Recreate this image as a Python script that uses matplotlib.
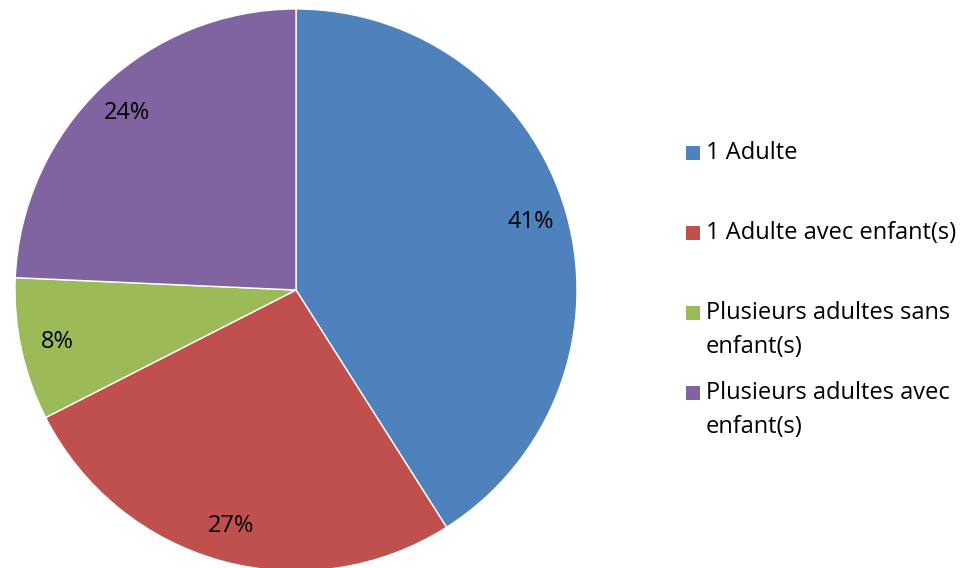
import matplotlib
matplotlib.use("Agg")
import matplotlib.pyplot as plt
from matplotlib.patches import Rectangle

# Parts des types de menages
categories = ["1 Adulte", "1 Adulte avec enfant(s)",
              "Plusieurs adultes sans\nenfant(s)", "Plusieurs adultes avec\nenfant(s)"]
parts = [41.0, 26.5, 8.2, 24.3]
etiquettes = ["41%", "27%", "8%", "24%"]
couleurs = ["#4F81BD", "#C0504D", "#9BBB59", "#8064A2"]

plt.rcParams['font.family'] = ['Open Sans', 'DejaVu Sans']

fig = plt.figure(figsize=(9.76, 5.68), dpi=100)
W, H = 976, 568
cx, cy, r = 296, 290, 281
ax = fig.add_axes([(cx - r) / W, (H - cy - r) / H, 2 * r / W, 2 * r / H])

it = iter(etiquettes)
wedges, textes, pcts = ax.pie(parts, colors=couleurs, startangle=90, counterclock=False,
                              autopct=lambda p: next(it), pctdistance=0.87,
                              wedgeprops=dict(edgecolor="white", linewidth=1),
                              textprops=dict(fontsize=17, color="black"))
ax.set_xlim(-1, 1)
ax.set_ylim(-1, 1)

# legende a droite
y0 = 153
for i, (lab, c) in enumerate(zip(categories, couleurs)):
    y = y0 + i * 80
    fig.patches.append(Rectangle(((686) / W, 1 - (y + 7) / H), 14 / W, 14 / H,
                                 transform=fig.transFigure, facecolor=c, edgecolor="none"))
    fig.text(706 / W, 1 - (y - 12) / H, lab, fontsize=17, va="top", ha="left",
             linespacing=1.55)

fig.savefig("out.png", dpi=100)
